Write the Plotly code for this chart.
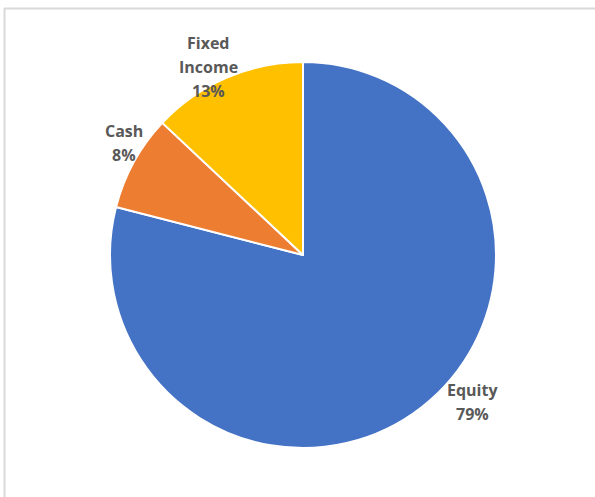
import plotly.graph_objects as go

# Portfolio allocation
categories = ["Equity", "Cash", "Fixed Income"]
shares = [79, 8, 13]
label_lines = [["Equity"], ["Cash"], ["Fixed", "Income"]]

colors = ["#4472C4", "#ED7D31", "#FFC000"]

W, H = 595, 497
LINE_GAP = 24  # px between label lines

fig = go.Figure(
    go.Pie(
        labels=categories,
        values=shares,
        sort=False,
        direction="clockwise",
        rotation=0,
        marker=dict(colors=colors, line=dict(color="white", width=2)),
        textinfo="none",
        hoverinfo="label+percent",
        showlegend=False,
        domain=dict(x=[110 / W, 496 / W], y=[(H - 448) / H, (H - 62) / H]),
    )
)

# Outside data labels: pixel position of the top line centre of each block
label_tops = [(473, 390), (124, 131), (209, 43)]
total = sum(shares)
for lines, v, (px, py) in zip(label_lines, shares, label_tops):
    rows = lines + [f"{round(100 * v / total)}%"]
    for i, row in enumerate(rows):
        fig.add_annotation(
            x=px / W,
            y=1 - (py + i * LINE_GAP) / H,
            xref="paper",
            yref="paper",
            text=row,
            showarrow=False,
            xanchor="center",
            yanchor="middle",
            font=dict(family="Open Sans", size=16, color="#595959", weight="bold"),
        )

# Chart-area frame (top and left edges)
fig.add_shape(type="line", xref="paper", yref="paper",
              x0=4 / W, x1=1, y0=1 - 8.5 / H, y1=1 - 8.5 / H,
              line=dict(color="#D9D9D9", width=2))
fig.add_shape(type="line", xref="paper", yref="paper",
              x0=4.5 / W, x1=4.5 / W, y0=0, y1=1 - 8 / H,
              line=dict(color="#D9D9D9", width=2))

fig.update_layout(
    width=W,
    height=H,
    margin=dict(l=0, r=0, t=0, b=0),
    paper_bgcolor="white",
    plot_bgcolor="white",
)

fig.write_html("out.html")
